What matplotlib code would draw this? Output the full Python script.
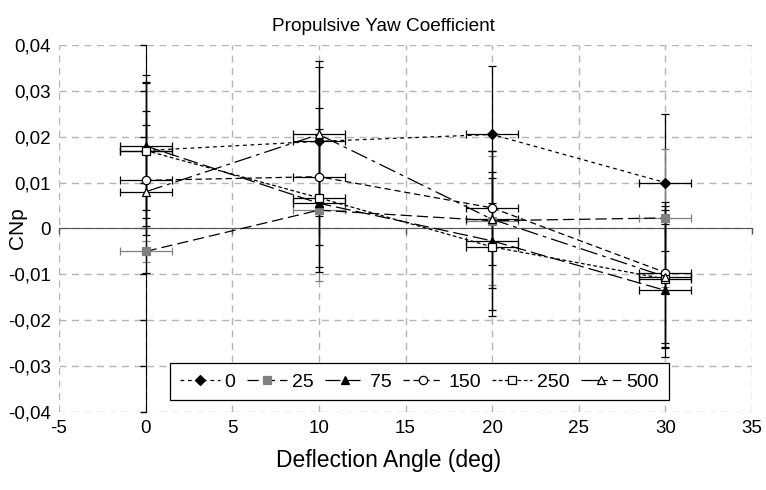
import matplotlib
matplotlib.use('Agg')
import matplotlib.pyplot as plt
from matplotlib.ticker import FuncFormatter

plt.rcParams['font.family'] = ['Liberation Sans', 'DejaVu Sans']
plt.rcParams['axes.unicode_minus'] = False

# deflection angles and yaw coefficient per series
angles = [0, 10, 20, 30]
series_labels = ['0', '25', '75', '150', '250', '500']

cnp_0 = [0.0170, 0.0190, 0.0205, 0.0100]
cnp_25 = [-0.0050, 0.0040, 0.0017, 0.0023]
cnp_75 = [0.0180, 0.0055, -0.0027, -0.0135]
cnp_150 = [0.0105, 0.0113, 0.0045, -0.0096]
cnp_250 = [0.0170, 0.0067, -0.0040, -0.0110]
cnp_500 = [0.0080, 0.0205, 0.0020, -0.0105]

err_0 = [0.0165, 0.0163, 0.0150, 0.0150]
err_25 = [0.0023, 0.0154, 0.0140, 0.0150]
err_75 = [0.0140, 0.0150, 0.0150, 0.0145]
err_150 = [0.0120, 0.0150, 0.0125, 0.0153]
err_250 = [0.0147, 0.0150, 0.0150, 0.0150]
err_500 = [0.0177, 0.0160, 0.0150, 0.0154]

angle_err = 1.5

x_ticks = [-5, 0, 5, 10, 15, 20, 25, 30, 35]
y_ticks = [-0.04, -0.03, -0.02, -0.01, 0, 0.01, 0.02, 0.03, 0.04]

values = [cnp_0, cnp_25, cnp_75, cnp_150, cnp_250, cnp_500]
errors = [err_0, err_25, err_75, err_150, err_250, err_500]

markers = ['D', 's', '^', 'o', 's', '^']
faces = ['black', '#808080', 'black', 'white', 'white', 'white']
edges = ['black', '#808080', 'black', 'black', 'black', 'black']
ecolors = ['black', '#808080', 'black', 'black', 'black', 'black']
dashes = [(0, (3, 3)), (0, (9, 4)), (0, (12, 4)), (0, (5, 3)), (0, (3, 2)), (0, (14, 4, 3, 4))]
sizes = [5, 6, 6, 6, 6, 6]

fig = plt.figure(figsize=(7.66, 4.9), dpi=100)
rect = [59 / 766, 1 - 412 / 490, 693 / 766, 367 / 490]

# back axes: grid and tick labels at the plot edges
bg = fig.add_axes(rect)
bg.set_xlim(-5, 35)
bg.set_ylim(-0.04, 0.04)
bg.set_xticks(x_ticks)
bg.set_yticks(y_ticks)
bg.xaxis.set_major_formatter(FuncFormatter(lambda v, p: f'{v:g}'))
bg.yaxis.set_major_formatter(FuncFormatter(
    lambda v, p: '0' if abs(v) < 1e-9 else f'{v:.2f}'.replace('.', ',')))
bg.tick_params(length=0, labelsize=13.5, pad=6)
bg.grid(True, color='#b4b4b4', linestyle=(0, (5, 4)), linewidth=1)
for s in bg.spines.values():
    s.set_visible(False)
bg.set_title('Propulsive Yaw Coefficient', fontsize=13.7, pad=10, x=(383 - 59) / 693)
bg.set_xlabel('Deflection Angle (deg)', fontsize=16.5, labelpad=4)
bg.xaxis.set_label_coords((389 - 59) / 693, -0.1)
bg.set_ylabel('CNp', fontsize=15)
bg.yaxis.set_label_coords(-0.046, 0.5)

# front axes: data, with axis lines crossing at zero
ax = fig.add_axes(rect, sharex=bg, sharey=bg)
ax.patch.set_visible(False)
ax.spines['left'].set_position(('data', 0))
ax.spines['bottom'].set_position(('data', 0))
ax.spines['right'].set_visible(False)
ax.spines['top'].set_visible(False)
ax.spines['left'].set_color('black')
ax.spines['bottom'].set_color('#555555')
ax.tick_params(labelleft=False, labelbottom=False, length=4, width=1, direction='out')
ax.tick_params(axis='x', color='#555555')

for lab, y, e, m, fc, ec, ecol, ls, ms in zip(series_labels, values, errors, markers,
                                              faces, edges, ecolors, dashes, sizes):
    ax.errorbar(angles, y, yerr=e, xerr=angle_err, fmt='none', ecolor=ecol,
                elinewidth=0.9, capsize=3, capthick=0.9, zorder=3)
    ax.plot(angles, y, linestyle=ls, color='black', linewidth=0.9, marker=m,
            markersize=ms, markerfacecolor=fc, markeredgecolor=ec,
            markeredgewidth=0.9, label=lab, zorder=4)

leg = ax.legend(loc='lower center', bbox_to_anchor=(0.52, 0.0), ncol=6, fontsize=14,
                handlelength=2.05, handletextpad=0.25, columnspacing=0.6,
                borderpad=0.5, borderaxespad=0.6, fancybox=False, framealpha=1,
                edgecolor='black')
leg.get_frame().set_linewidth(0.9)

fig.savefig('out.png', dpi=100)
